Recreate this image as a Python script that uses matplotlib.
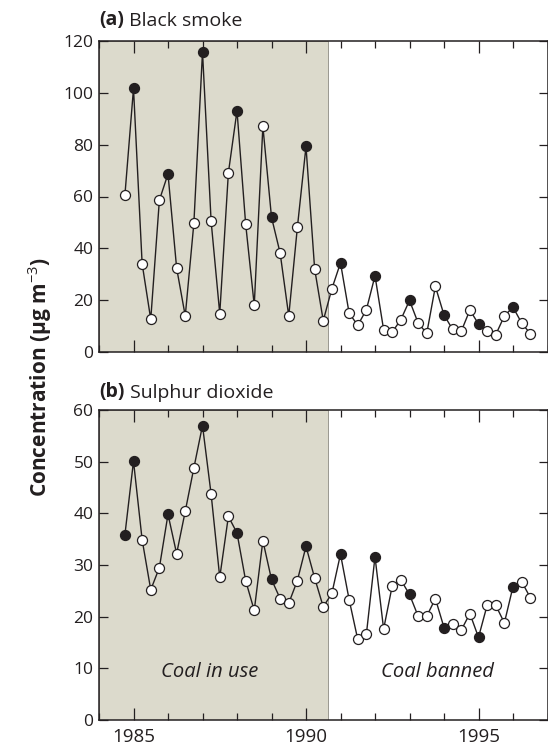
import numpy as np
import matplotlib
matplotlib.use("Agg")
import matplotlib.pyplot as plt

plt.rcParams['font.family'] = ['Open Sans', 'DejaVu Sans']
plt.rcParams['mathtext.fontset'] = 'custom'
plt.rcParams['mathtext.rm'] = 'Open Sans'
plt.rcParams['mathtext.bf'] = 'Open Sans:bold'

# quarterly sampling times (decimal years)
quarters = np.arange(1984.75, 1996.51, 0.25)

smoke = [60.4, 101.7, 34.1, 12.6, 58.6, 68.7, 32.4, 13.9, 49.7, 115.8,
         50.4, 14.8, 69.1, 93.1, 49.5, 18.0, 87.1, 52.0, 38.2, 13.9,
         48.1, 79.3, 32.1, 12.1, 24.4, 34.4, 15.0, 10.3, 16.3, 29.4,
         8.6, 7.7, 12.5, 19.9, 11.2, 7.2, 25.3, 14.3, 8.7, 8.0,
         16.2, 10.8, 8.1, 6.7, 13.9, 17.3, 11.2, 7.1]
smoke_filled = [0, 1, 0, 0, 0, 1, 0, 0, 0, 1, 0, 0, 0, 1, 0, 0, 0, 1, 0, 0,
                0, 1, 0, 0, 0, 1, 0, 0, 0, 1, 0, 0, 0, 1, 0, 0, 0, 1, 0, 0,
                0, 1, 0, 0, 0, 1, 0, 0]

so2 = [35.8, 50.1, 34.9, 25.2, 29.5, 39.8, 32.2, 40.4, 48.8, 57.0,
       43.7, 27.6, 39.4, 36.2, 27.0, 21.2, 34.7, 27.2, 23.5, 22.6,
       27.0, 33.6, 27.5, 21.9, 24.5, 32.1, 23.3, 15.6, 16.6, 31.6,
       17.6, 26.0, 27.1, 24.3, 20.1, 20.1, 23.5, 17.9, 18.5, 17.4,
       20.6, 16.0, 22.2, 22.2, 18.8, 25.8, 26.8, 23.7]
so2_filled = [1, 1, 0, 0, 0, 1, 0, 0, 0, 1, 0, 0, 0, 1, 0, 0, 0, 1, 0, 0,
              0, 1, 0, 0, 0, 1, 0, 0, 0, 1, 0, 0, 0, 1, 0, 0, 0, 1, 0, 0,
              0, 1, 0, 0, 0, 1, 0, 0]

coal_ban = 1990.625
xlim = (1984, 1997)
xticks_major = [1985, 1990, 1995]
xticks_minor = list(range(1984, 1998))

W, H = 548, 751
fig = plt.figure(figsize=(W / 100, H / 100), dpi=100)

def fx(px):
    return px / W

def fy(py):
    return 1 - py / H

ink = '#231f20'
shade = '#dcdacc'

ax_a = fig.add_axes([fx(99), fy(352), fx(547.5) - fx(99), fy(41) - fy(352)])
ax_b = fig.add_axes([fx(99), fy(720), fx(547.5) - fx(99), fy(410) - fy(720)])

def draw(ax, vals, filled, ylim, yticks):
    ax.axvspan(xlim[0], coal_ban, facecolor=shade, edgecolor='#9a9890', linewidth=0.7, zorder=0)
    vals = np.array(vals)
    filled = np.array(filled, dtype=bool)
    ax.plot(quarters, vals, color=ink, lw=1.0, zorder=2)
    ax.plot(quarters[~filled], vals[~filled], 'o', ms=7.2, mfc='white', mec=ink, mew=0.9, zorder=3)
    ax.plot(quarters[filled], vals[filled], 'o', ms=7.2, mfc=ink, mec=ink, mew=0.9, zorder=3)
    ax.set_xlim(*xlim)
    ax.set_ylim(*ylim)
    ax.set_yticks(yticks)
    ax.set_xticks(xticks_major)
    ax.set_xticks(xticks_minor, minor=True)
    ax.tick_params(axis='x', which='major', direction='in', length=8.5, width=0.9,
                   top=True, bottom=True, color=ink, labelsize=13.5, pad=6, labelcolor=ink)
    ax.tick_params(axis='x', which='minor', direction='in', length=5, width=0.9,
                   top=True, bottom=True, color=ink)
    ax.tick_params(axis='y', which='major', direction='in', length=6.5, width=0.9,
                   left=True, right=True, color=ink, labelsize=12.5, pad=4, labelcolor=ink)
    for s in ax.spines.values():
        s.set_color(ink)
        s.set_linewidth(1.1)

draw(ax_a, smoke, smoke_filled, (0, 120), [0, 20, 40, 60, 80, 100, 120])
draw(ax_b, so2, so2_filled, (0, 60), [0, 10, 20, 30, 40, 50, 60])
ax_a.tick_params(axis='x', which='major', labelbottom=False)

# panel titles
ta = fig.text(fx(99.5), fy(25), '(a)', fontsize=14, fontweight='bold', color=ink, va='baseline')
ax_a.annotate(' Black smoke', xy=(1, 0), xycoords=ta, fontsize=14, color=ink, va='bottom', ha='left')
tb = fig.text(fx(99.5), fy(397), '(b)', fontsize=14, fontweight='bold', color=ink, va='baseline')
ax_b.annotate(' Sulphur dioxide', xy=(1, 0), xycoords=tb, fontsize=14, color=ink, va='bottom', ha='left')

fig.text(fx(40), fy(377), 'Concentration (µg m$^{-3}$)', rotation=90, fontsize=15,
         fontweight='bold', color=ink, ha='center', va='center')

ax_b.text(1987.21, 9.2, 'Coal in use', fontsize=14.5, style='italic', color=ink, ha='center', va='center')
ax_b.text(1993.82, 9.2, 'Coal banned', fontsize=14.5, style='italic', color=ink, ha='center', va='center')

fig.savefig('out.png', dpi=100)
